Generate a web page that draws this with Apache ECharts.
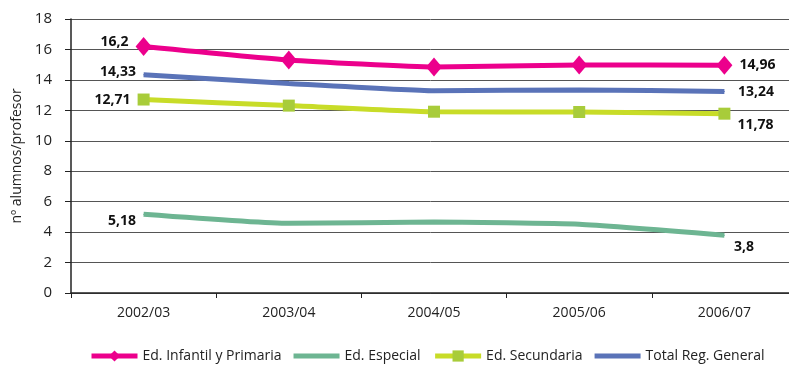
<!DOCTYPE html>
<html><head><meta charset="utf-8">
<script src="https://cdn.jsdelivr.net/npm/echarts@6/dist/echarts.min.js"></script>
<style>html,body{margin:0;padding:0;background:#fff}#c{width:789px;height:370px}</style>
</head><body><div id="c"></div>
<script>
const categories = ['2002/03','2003/04','2004/05','2005/06','2006/07'];
const infantil = [16.2, 15.31, 14.84, 14.98, 14.96];
const especial = [5.18, 4.58, 4.66, 4.52, 3.8];
const secundaria = [12.71, 12.31, 11.91, 11.89, 11.78];
const total = [14.33, 13.77, 13.29, 13.34, 13.24];
const seriesNames = ['Ed. Infantil y Primaria','Ed. Especial','Ed. Secundaria','Total Reg. General'];
const yTicks = {min:0, max:18, interval:2};

const FONT = 'Open Sans';
function fmt(v){return String(v).replace('.', ',');}
function withLabels(arr, firstOff, lastOff){
  return arr.map((v,i)=>{
    if(i===0) return {value:v,label:{show:true,position:'left',distance:7,offset:firstOff}};
    if(i===arr.length-1) return {value:v,label:{show:true,position:'right',distance:7,offset:lastOff}};
    return {value:v};
  });
}
const labelStyle = {fontFamily:FONT,fontWeight:'bold',fontSize:14,color:'#111',formatter:p=>fmt(p.value)};
const barIcon = 'path://M0,0 L46,0 L46,5 L0,5 Z';
const chart = echarts.init(document.getElementById('c'));
chart.setOption({
  animation:false,
  grid:{left:71,top:19,bottom:77,right:-8,containLabel:false,outerBoundsMode:'none'},
  xAxis:{type:'category',data:categories,boundaryGap:true,
    axisLine:{lineStyle:{color:'#222',width:1.5}},
    axisTick:{show:true,length:5,lineStyle:{color:'#222'}},
    axisLabel:{fontFamily:FONT,fontSize:14,color:'#222',margin:13}},
  yAxis:{type:'value',min:yTicks.min,max:yTicks.max,interval:yTicks.interval,
    name:'nº alumnos/profesor',nameLocation:'middle',nameGap:47,nameRotate:90,
    nameTextStyle:{fontFamily:FONT,fontSize:14,color:'#222'},
    axisLine:{show:true,lineStyle:{color:'#222',width:1.5}},
    axisTick:{show:true,length:6,lineStyle:{color:'#222'}},
    axisLabel:{fontFamily:FONT,fontSize:15,color:'#222',margin:19},
    splitLine:{lineStyle:{color:'#555',width:1}}},
  legend:{bottom:2,left:84,itemWidth:46,itemHeight:14,itemGap:12,
    lineStyle:{width:5},
    textStyle:{fontFamily:FONT,fontSize:14,color:'#222'},
    data:[{name:seriesNames[0]},{name:seriesNames[1],icon:barIcon},{name:seriesNames[2]},{name:seriesNames[3],icon:barIcon}]},
  series:[
    {name:seriesNames[0],type:'line',smooth:0.15,symbol:'diamond',symbolSize:[16,19],
     lineStyle:{width:5,color:'#EC008C'},itemStyle:{color:'#EC008C'},
     label:labelStyle,
     data:withLabels(infantil,[0,-4],[0,0])},
    {name:seriesNames[1],type:'line',smooth:0.15,symbol:'circle',symbolSize:1,
     lineStyle:{width:5,color:'#6DB592'},itemStyle:{color:'#6DB592'},
     label:labelStyle,
     data:withLabels(especial,[0,7],[2,12])},
    {name:seriesNames[2],type:'line',smooth:0.15,symbol:'rect',symbolSize:12,
     lineStyle:{width:5,color:'#C8DC28'},itemStyle:{color:'#A8CC3A'},
     label:labelStyle,
     data:withLabels(secundaria,[0,0],[0,11])},
    {name:seriesNames[3],type:'line',smooth:0.15,symbol:'circle',symbolSize:1,
     lineStyle:{width:5,color:'#5A73B8'},itemStyle:{color:'#5A73B8'},
     label:labelStyle,
     data:withLabels(total,[0,-3],[6,1])}
  ]
});
</script></body></html>
